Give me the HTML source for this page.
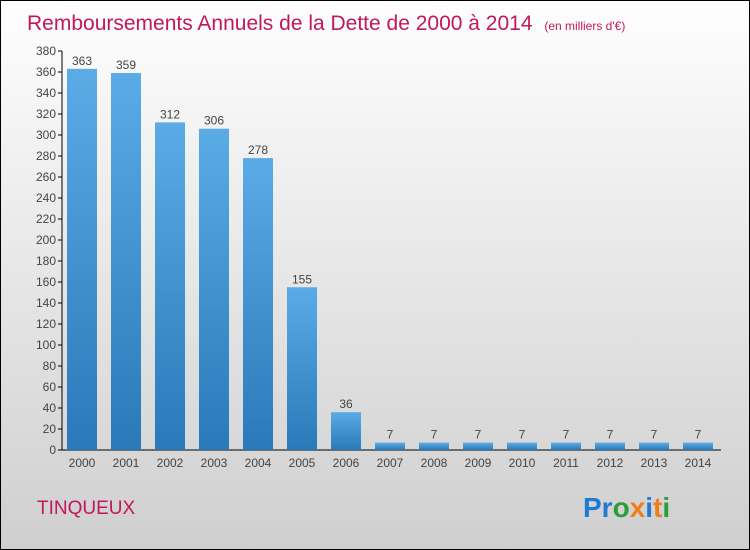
<!DOCTYPE html>
<html><head><meta charset="utf-8"><style>
body{margin:0}
#c{width:748px;height:548px;border:1px solid #000;background:linear-gradient(#fefefe,#cfcfcf);position:relative;font-family:"Liberation Sans",sans-serif;overflow:hidden}
</style></head><body>
<div id="c">
<svg width="748" height="548" id="s">
<defs><linearGradient id="g" x1="0" y1="0" x2="0" y2="1"><stop offset="0" stop-color="#5aabe6"/><stop offset="1" stop-color="#2a79b9"/></linearGradient></defs>
<text x="26" y="29" font-size="21" fill="#c2185b">Remboursements Annuels de la Dette de 2000 à 2014 <tspan font-size="12" dx="6">(en milliers d'€)</tspan></text>
<text x="36" y="513" font-size="19" fill="#c2185b">TINQUEUX</text>
<text x="582" y="516" font-size="28" font-weight="bold"><tspan fill="#1e7bd2">Pr</tspan><tspan fill="#2e9c3a">o</tspan><tspan fill="#f07e1a">x</tspan><tspan fill="#1e7bd2">i</tspan><tspan fill="#f07e1a">t</tspan><tspan fill="#2e9c3a">i</tspan></text>
<g id="plot"></g>
</svg></div>
<script>
const categories=["2000","2001","2002","2003","2004","2005","2006","2007","2008","2009","2010","2011","2012","2013","2014"];
const values=[363,359,312,306,278,155,36,7,7,7,7,7,7,7,7];
const yTicks=[0,20,40,60,80,100,120,140,160,180,200,220,240,260,280,300,320,340,360,380];
const NS="http://www.w3.org/2000/svg",g=document.getElementById('plot');
const y=v=>449-v*(399/380), x=i=>66+i*44;
function el(t,a,txt){const e=document.createElementNS(NS,t);for(const k in a)e.setAttribute(k,a[k]);if(txt!==undefined)e.textContent=txt;g.appendChild(e);return e;}
let ax=el('line',{x1:61,y1:50,x2:61,y2:449,stroke:'#000'});

let bx=el('line',{x1:61,y1:449,x2:720,y2:449,stroke:'#000'});

yTicks.forEach(t=>{
 let l=el('line',{x1:57,y1:y(t),x2:61,y2:y(t),stroke:'#000'});
 
 let tx=el('text',{x:55,y:y(t)+4,'font-size':12,'text-anchor':'end',fill:'#444'},t);
 
});
values.forEach((v,i)=>{
 let r=el('rect',{x:x(i),y:y(v),width:30,height:449-y(v),fill:'url(#g)'});
 
 let vl=el('text',{x:x(i)+15,y:y(v)-4,'font-size':12,'text-anchor':'middle',fill:'#444'},v);
 
 let cl=el('text',{x:x(i)+15,y:466,'font-size':12,'text-anchor':'middle',fill:'#444'},categories[i]);
 
});
</script>
</body></html>
